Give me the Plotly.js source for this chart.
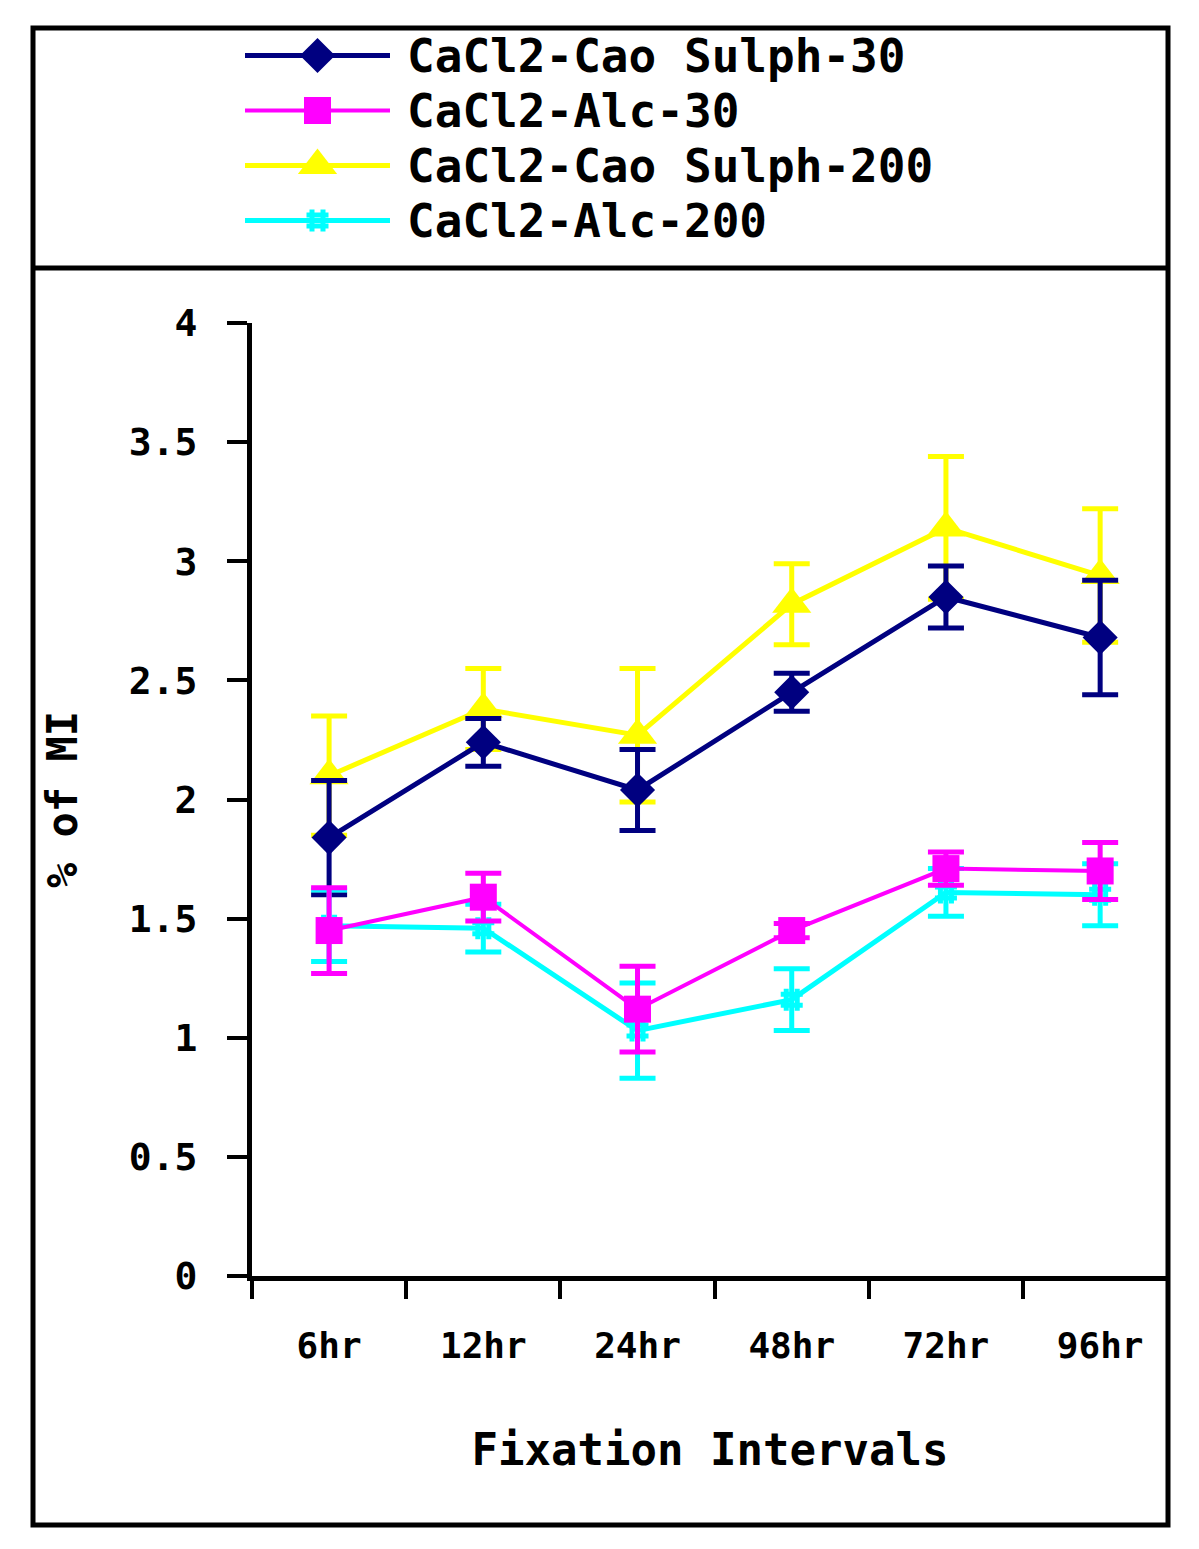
<!DOCTYPE html>
<html>
<head>
<meta charset="utf-8">
<script src="https://cdn.plot.ly/plotly-3.0.1.min.js"></script>
<style>html,body{margin:0;padding:0;background:#fff;}#chart{width:1199px;height:1549px;}</style>
</head>
<body>
<div id="chart"></div>
<script>
// ---- data ----
const categories = ['6hr', '12hr', '24hr', '48hr', '72hr', '96hr'];
const seriesNames = ['CaCl2-Cao Sulph-30', 'CaCl2-Alc-30', 'CaCl2-Cao Sulph-200', 'CaCl2-Alc-200'];
const sulph30 = [1.84, 2.24, 2.04, 2.45, 2.85, 2.68];
const sulph30Err = [0.24, 0.10, 0.17, 0.08, 0.13, 0.24];
const alc30 = [1.45, 1.59, 1.12, 1.45, 1.71, 1.70];
const alc30Err = [0.18, 0.10, 0.18, 0.03, 0.07, 0.12];
const sulph200 = [2.10, 2.38, 2.27, 2.82, 3.14, 2.94];
const sulph200Err = [0.25, 0.17, 0.28, 0.17, 0.30, 0.28];
const alc200 = [1.47, 1.46, 1.03, 1.16, 1.61, 1.60];
const alc200Err = [0.15, 0.10, 0.20, 0.13, 0.10, 0.13];
const yTickVals = [0, 0.5, 1, 1.5, 2, 2.5, 3, 3.5, 4];

// ---- styles ----
const W = 1199, H = 1549;
const M = {l: 33, r: 31, t: 28, b: 273};
const PW = W - M.l - M.r, PH = H - M.t - M.b;
const px = x => (x - M.l) / PW;
const py = y => (H - M.b - y) / PH;
const FONT = 'DejaVu Sans Mono, monospace';

const styles = [
  {color: '#000080', symbol: 'diamond', size: 27, lw: 5},
  {color: '#FF00FF', symbol: 'square', size: 27, lw: 4},
  {color: '#FFFF00', symbol: 'triangle-up', size: 34, lw: 5},
  {color: '#00FFFF', symbol: 'hash-open', size: 22, lw: 5}
];
const vals = [sulph30, alc30, sulph200, alc200];
const errs = [sulph30Err, alc30Err, sulph200Err, alc200Err];

function markerOf(s) {
  return {color: s.color, symbol: s.symbol, size: s.size, opacity: 1,
          line: {color: s.color, width: s.symbol === 'hash-open' ? 5 : 0}};
}

const traces = [];
const drawOrder = [2, 0, 3, 1];
drawOrder.forEach(i => {
  const s = styles[i];
  traces.push({
    type: 'scatter', mode: 'lines+markers', name: seriesNames[i],
    x: categories, y: vals[i], xaxis: 'x', yaxis: 'y',
    line: {color: s.color, width: s.lw},
    marker: markerOf(s), opacity: 1,
    error_y: {type: 'data', array: errs[i], visible: true, color: s.color, thickness: 5, width: 18},
    showlegend: false, cliponaxis: false
  });
});

// legend samples in a small subplot
seriesNames.forEach((n, i) => {
  const s = styles[i];
  traces.push({
    type: 'scatter', mode: 'lines', x: [0, 1], y: [i, i],
    xaxis: 'x2', yaxis: 'y2', showlegend: false, hoverinfo: 'skip',
    line: {color: s.color, width: s.lw}, cliponaxis: false
  });
  traces.push({
    type: 'scatter', mode: 'markers', x: [0.5], y: [i],
    xaxis: 'x2', yaxis: 'y2', showlegend: false, hoverinfo: 'skip',
    marker: markerOf(s), opacity: 1, cliponaxis: false
  });
});

const annotations = seriesNames.map((n, i) => ({
  text: n, xref: 'paper', yref: 'y2', x: px(405), y: i,
  xanchor: 'left', yanchor: 'middle', showarrow: false,
  font: {family: FONT, size: 46, color: '#000', weight: 'bold'}
}));

const shapes = [
  {type: 'rect', xref: 'paper', yref: 'paper', x0: 0, x1: 1, y0: py(1525), y1: 1,
   line: {color: '#000', width: 5}, fillcolor: 'rgba(0,0,0,0)'},
  {type: 'line', xref: 'paper', yref: 'paper', x0: 0, x1: 1, y0: py(268), y1: py(268),
   line: {color: '#000', width: 5}}
];

const layout = {
  width: W, height: H, margin: M,
  paper_bgcolor: '#fff', plot_bgcolor: '#fff',
  showlegend: false,
  font: {family: FONT, color: '#000'},
  xaxis: {
    domain: [px(252), 1], type: 'category', categoryorder: 'array', categoryarray: categories,
    range: [-0.5, 5.44], showline: true, linecolor: '#000', linewidth: 5,
    ticks: 'outside', tickson: 'boundaries', ticklen: 18, tickwidth: 4, tickcolor: '#000',
    showgrid: false, zeroline: false, ticklabelstandoff: 34,
    tickfont: {family: FONT, size: 36, color: '#000', weight: 'bold'},
    title: {text: 'Fixation Intervals', standoff: 70,
            font: {family: FONT, size: 44, color: '#000', weight: 'bold'}},
    anchor: 'y', fixedrange: true
  },
  yaxis: {
    domain: [0, py(323)], range: [0, 4], tickvals: yTickVals,
    showline: true, linecolor: '#000', linewidth: 5,
    ticks: 'outside', ticklen: 20, tickwidth: 4, tickcolor: '#000',
    showgrid: false, zeroline: false, ticklabelstandoff: 22,
    tickfont: {family: FONT, size: 38, color: '#000', weight: 'bold'},
    title: {text: '% of MI', standoff: 40,
            font: {family: FONT, size: 42, color: '#000', weight: 'bold'}},
    anchor: 'x', fixedrange: true
  },
  xaxis2: {domain: [px(245), px(390)], range: [0, 1], visible: false, anchor: 'y2', fixedrange: true},
  yaxis2: {domain: [py(248), 1], range: [3.5, -0.5], visible: false, anchor: 'x2', fixedrange: true},
  annotations: annotations,
  shapes: shapes
};

Plotly.newPlot('chart', traces, layout, {displayModeBar: false, staticPlot: true});
</script>
</body>
</html>
